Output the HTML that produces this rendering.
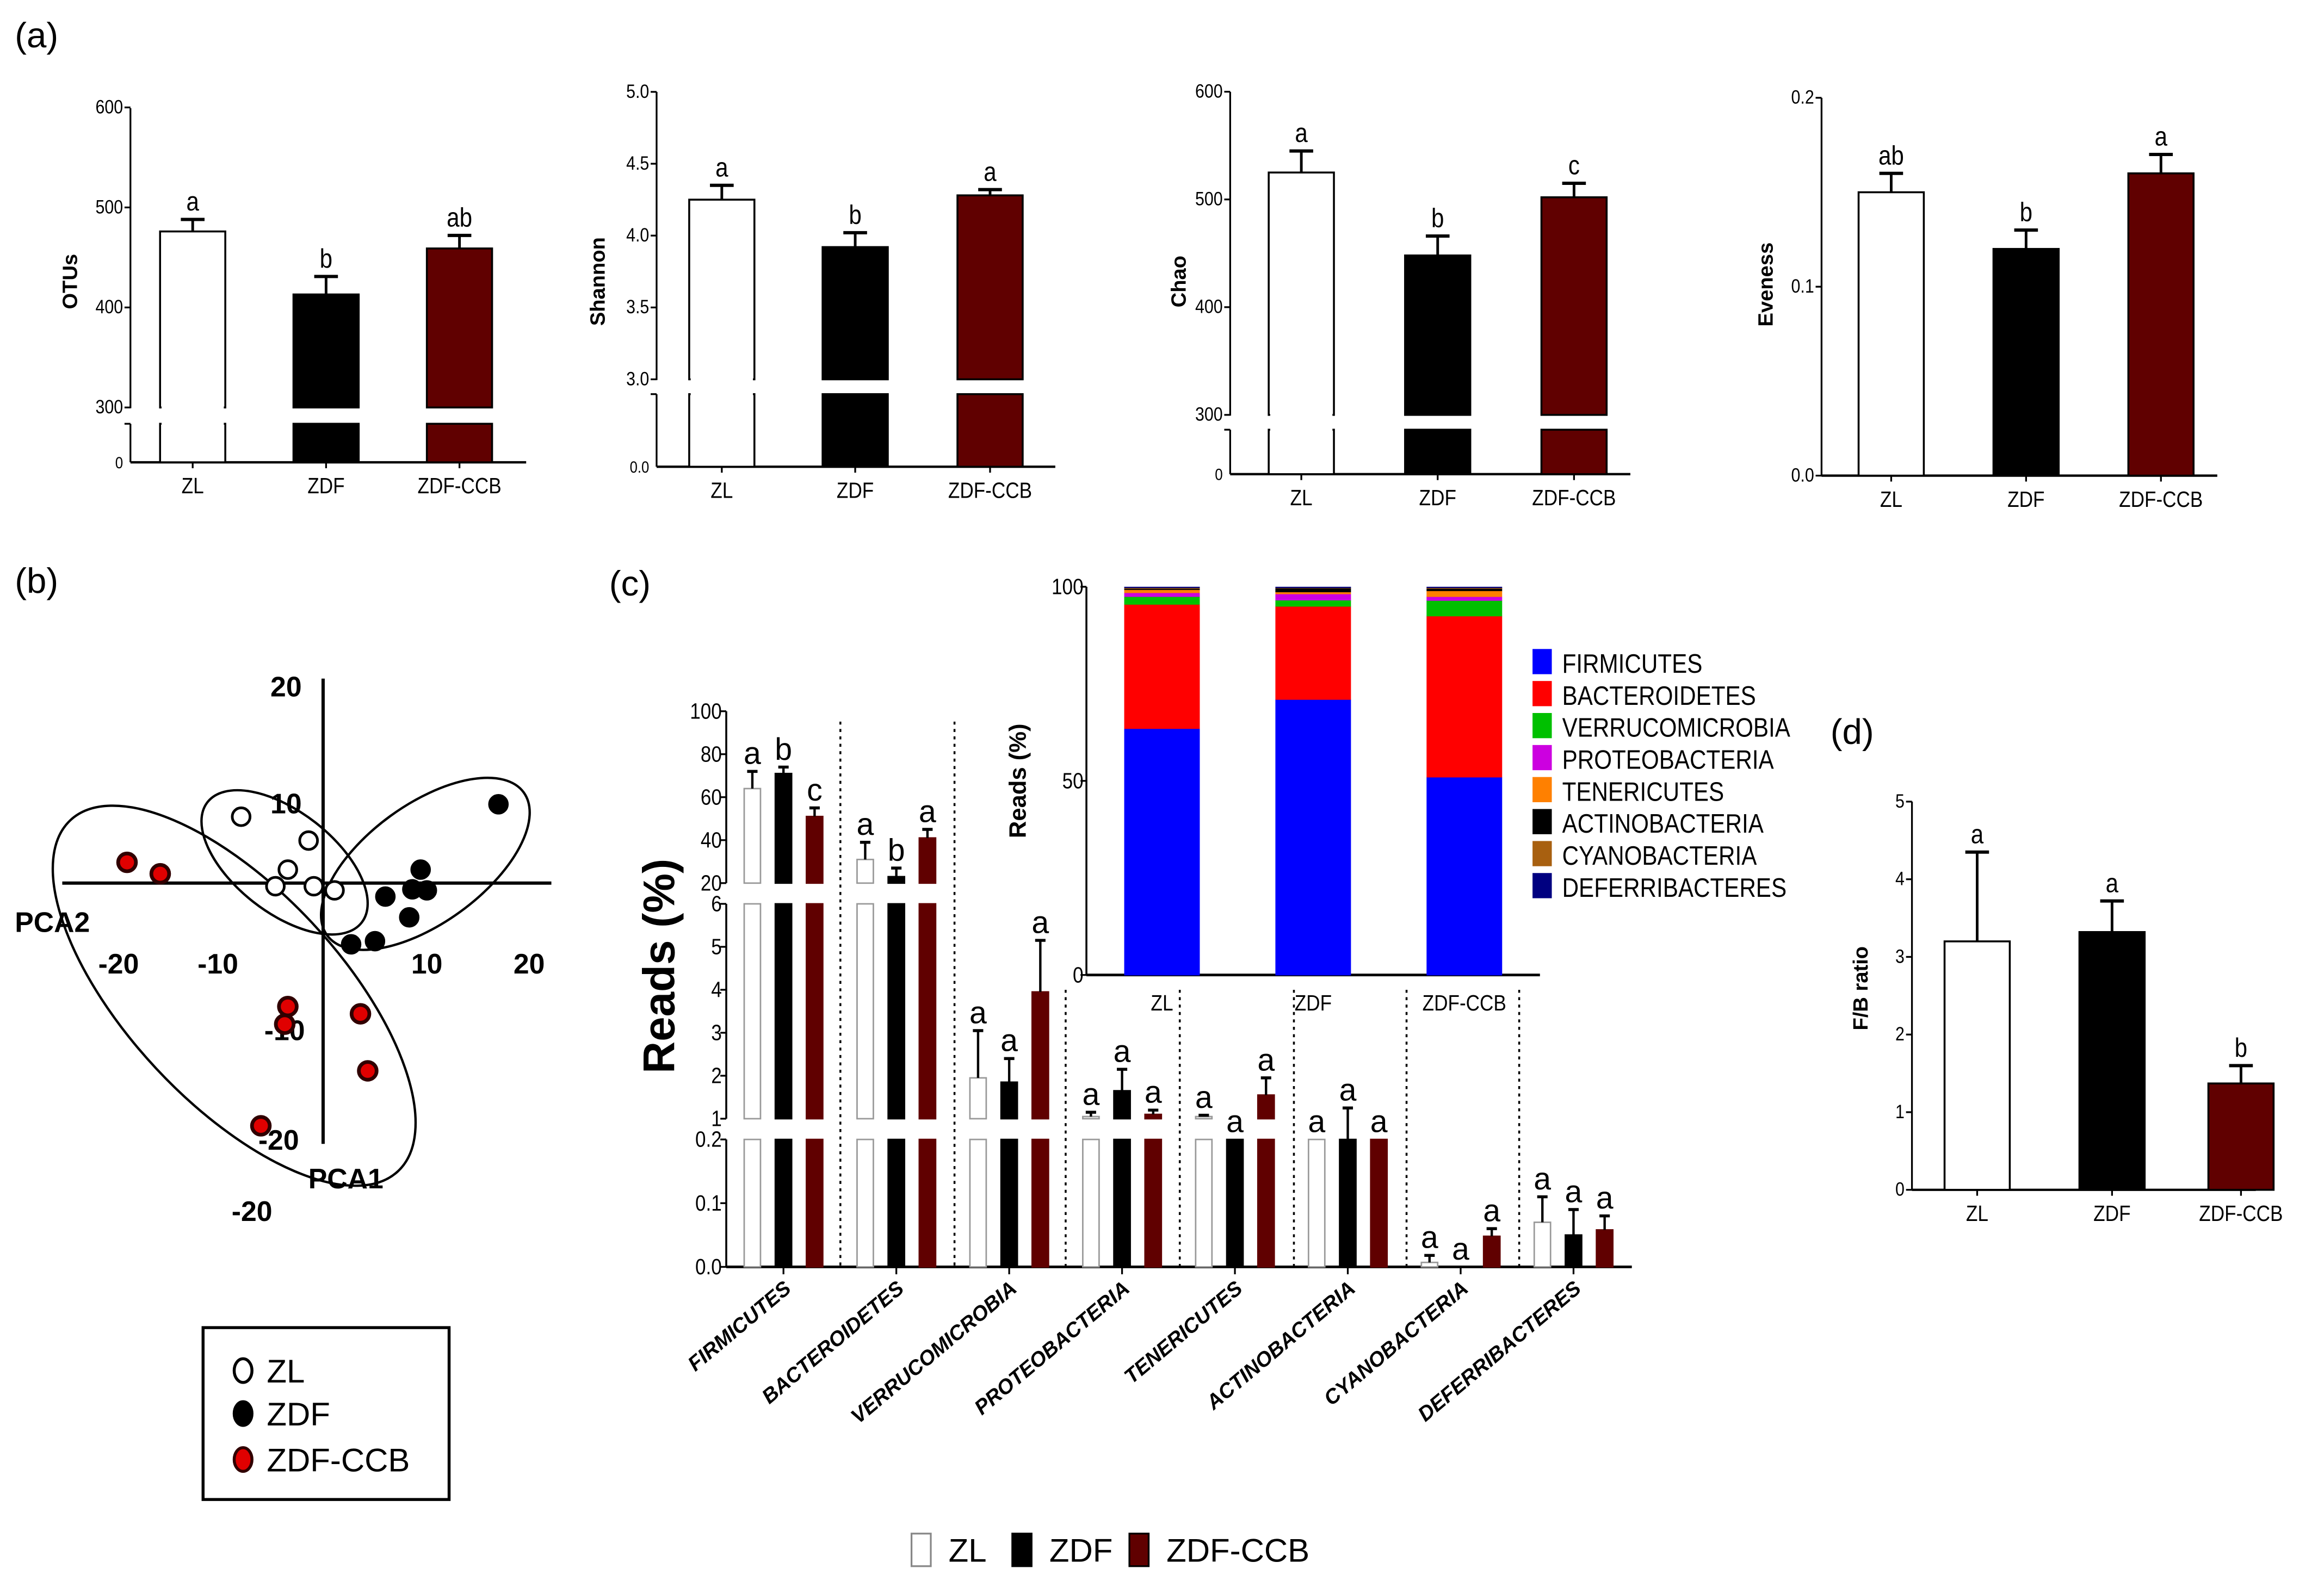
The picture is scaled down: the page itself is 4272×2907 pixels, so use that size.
<!DOCTYPE html>
<html><head><meta charset="utf-8"><style>
html,body{margin:0;padding:0;background:#fff;}
svg{display:block;}
text{font-family:"Liberation Sans Narrow","Liberation Sans",sans-serif;fill:#000;}
.b{font-family:"Liberation Sans",sans-serif;font-weight:bold;}
.L{font-family:"Liberation Sans",sans-serif;}
</style></head><body>
<svg id="fig" xmlns="http://www.w3.org/2000/svg" width="4272" height="2907" viewBox="0 0 1568 1067">
<rect x="0" y="0" width="1568" height="1067" fill="#fff"/>
<text class="L" x="10" y="32" font-size="24">(a)</text>
<text class="L" x="10" y="400" font-size="24">(b)</text>
<text class="L" x="411" y="402" font-size="24">(c)</text>
<text class="L" x="1235" y="502" font-size="24">(d)</text>
<g id="gA"></g>
<g id="gB"></g>
<g id="gC"></g>
<g id="gD"></g>
</svg>
<script>
const groups=["ZL","ZDF","ZDF-CCB"];
const fills=["#fff","#000","#600000"];
// panel a
const otusMean=[476,413,459], otusErr=[488,431,472], otusSig=["a","b","ab"];
const shanMean=[4.25,3.92,4.28], shanErr=[4.35,4.02,4.32], shanSig=["a","b","a"];
const chaoMean=[525,448,502], chaoErr=[545,466,515], chaoSig=["a","b","c"];
const evenMean=[0.15,0.12,0.16], evenErr=[0.16,0.13,0.17], evenSig=["ab","b","a"];
const otusTicks=[300,400,500,600], shanTicks=[3.0,3.5,4.0,4.5,5.0], chaoTicks=[300,400,500,600], evenTicks=[0,0.1,0.2];
// panel d
const fbMean=[3.2,3.32,1.37], fbErr=[4.35,3.72,1.6], fbSig=["a","a","b"], fbTicks=[0,1,2,3,4,5];
// panel b
const pcaZL=[[-7.9,6.4],[-1.4,4.1],[-3.4,1.3],[-4.6,-0.3],[-0.9,-0.3],[1.1,-0.7]];
const pcaZDF=[[16.9,7.6],[9.4,1.3],[8.6,-0.6],[10,-0.7],[6,-1.3],[8.3,-3.3],[5,-5.6],[2.7,-5.9]];
const pcaCCB=[[-18.9,2],[-15.7,0.9],[-3.4,-11.9],[-3.7,-13.6],[3.6,-12.6],[4.3,-18.1],[-6,-23.4]];
// panel c
const phyla=["FIRMICUTES","BACTEROIDETES","VERRUCOMICROBIA","PROTEOBACTERIA","TENERICUTES","ACTINOBACTERIA","CYANOBACTERIA","DEFERRIBACTERES"];
const readsZL=[64,31,1.95,1.05,1.05,0.9,0.007,0.07];
const readsZDF=[71,23,1.85,1.65,0.9,0.95,0,0.05];
const readsCCB=[51,41,3.95,1.1,1.55,0.9,0.048,0.058];
const errZL=[72,39,3.05,1.15,1.08,0.9,0.018,0.11];
const errZDF=[74,27,2.4,2.15,0.9,1.25,0,0.09];
const errCCB=[55,45,5.15,1.2,1.95,0.9,0.06,0.08];
const sigZL=["a","a","a","a","a","a","a","a"];
const sigZDF=["b","b","a","a","a","a","a","a"];
const sigCCB=["c","a","a","a","a","a","a","a"];
const readTicks1=[20,40,60,80,100], readTicks2=[1,2,3,4,5,6], readTicks3=[0.0,0.1,0.2];
const stackZL=[63.5,32,2,1,0.8,0.3,0.2,0.2];
const stackZDF=[71,24,1.6,1.6,0.5,1,0.1,0.2];
const stackCCB=[51,41.5,4,1,1.5,0.6,0.2,0.2];
const stackColors=["#0000ff","#ff0000","#00c000","#cc00e0","#ff8000","#000000","#a86010","#000080"];

const NS="http://www.w3.org/2000/svg";
function mk(par,tag,at,txt){const e=document.createElementNS(NS,tag);for(const k in at)e.setAttribute(k,at[k]);if(txt!==undefined)e.textContent=txt;par.appendChild(e);return e;}
function line(p,x1,y1,x2,y2,w,extra){return mk(p,"line",Object.assign({x1,y1,x2,y2,stroke:"#000","stroke-width":w||1.2},extra||{}));}

function barChart(par,c,means,errs,sigs,ticks){
  const g=mk(par,"g",{});
  
  
  const Y=c.y;
  if(c.brk){
    line(g,c.ax,c.top,c.ax,Y(c.brkV)+0.5);
    line(g,c.ax,c.lowTop,c.ax,c.base);
    line(g,c.ax-4,c.lowTop,c.ax,c.lowTop);
  } else line(g,c.ax,c.top,c.ax,c.base);
  line(g,c.ax,c.base,c.xEnd,c.base,1.6);
  ticks.forEach(t=>{const y=Y(t);line(g,c.ax-4,y,c.ax,y);
    const tl=mk(g,"text",{x:c.ax-5,y:y+4,"font-size":13,"text-anchor":"end"},c.fmt(t));
    
    });
  if(c.brk){const tl=mk(g,"text",{x:c.ax-5,y:c.base+4,"font-size":11,"text-anchor":"end"},c.zero);
    }
  const yl=mk(g,"text",{class:"b",x:0,y:0,"font-size":14,"text-anchor":"middle",transform:`translate(${c.ylx},${c.yly}) rotate(-90)`},c.ylabel);
  
  
  means.forEach((m,i)=>{
    const cx=c.cx[i],w=c.bw;
    const yTop=Y(m);
    const st={fill:fills[i],stroke:"#000","stroke-width":1.3};
    if(c.brk){
      const r1=mk(g,"rect",Object.assign({x:cx-w/2,y:yTop,width:w,height:Y(c.brkV)-yTop},st));
      
      
      const r2=mk(g,"rect",Object.assign({x:cx-w/2,y:c.lowTop,width:w,height:c.base-c.lowTop},st));
      
      
      if(i==0){mk(g,"rect",{x:cx-w/2+1,y:Y(c.brkV)-1,width:w-2,height:c.lowTop-Y(c.brkV)+2,fill:"#fff"});}
    } else {
      const r=mk(g,"rect",Object.assign({x:cx-w/2,y:yTop,width:w,height:c.base-yTop},st));
      
      
    }
    const ye=Y(errs[i]);
    line(g,cx,yTop,cx,ye,1.8);line(g,cx-8,ye,cx+8,ye,2.2);
    const s=mk(g,"text",{x:cx,y:ye-6,"font-size":18,"text-anchor":"middle"},sigs[i]);
    
    
    line(g,cx,c.base,cx,c.base+4);
    const xl=mk(g,"text",{x:cx,y:c.base+21,"font-size":15,"text-anchor":"middle"},groups[i]);
    
    
  });
}
const gA=document.getElementById("gA");
barChart(gA,{name:"otus-chart",ax:88,top:73,base:312,xEnd:355,brk:true,brkV:300,lowTop:286,zero:"0",
  y:v=>v<300?312-v/300*26:275-(v-300)*0.675,fmt:t=>String(t),ylabel:"OTUs",ylx:52,yly:190,cx:[130,220,310],bw:44},otusMean,otusErr,otusSig,otusTicks);
barChart(gA,{name:"shannon-chart",ax:443,top:62,base:315,xEnd:712,brk:true,brkV:3.0,lowTop:266,zero:"0.0",
  y:v=>v<3?315-v/3*49:256-(v-3)*97,fmt:t=>t.toFixed(1),ylabel:"Shannon",ylx:408,yly:190,cx:[487,577,668],bw:44},shanMean,shanErr,shanSig,shanTicks);
barChart(gA,{name:"chao-chart",ax:830,top:62,base:320,xEnd:1100,brk:true,brkV:300,lowTop:290,zero:"0",
  y:v=>v<300?320-v/300*30:280-(v-300)*0.727,fmt:t=>String(t),ylabel:"Chao",ylx:800,yly:190,cx:[878,970,1062],bw:44},chaoMean,chaoErr,chaoSig,chaoTicks);
barChart(gA,{name:"eveness-chart",ax:1229,top:66,base:321,xEnd:1496,brk:false,
  y:v=>321-v*1275,fmt:t=>t.toFixed(1),ylabel:"Eveness",ylx:1196,yly:192,cx:[1276,1367,1458],bw:44},evenMean,evenErr,evenSig,evenTicks);
barChart(document.getElementById("gD"),{name:"fb-ratio-chart",ax:1290,top:541,base:803,xEnd:1522,brk:false,
  y:v=>803-v*52.4,fmt:t=>String(t),ylabel:"F/B ratio",ylx:1260,yly:667,cx:[1334,1425,1512],bw:44},fbMean,fbErr,fbSig,fbTicks);

// panel b PCA
(function(){
  const g=document.getElementById("gB");
  const X=u=>218+u*7, Y=u=>596-u*7;
  [[192,582,66,34,38],[287,583,82,40,-36],[158,672,162,72,47]].forEach((e,i)=>{
    const el=mk(g,"ellipse",{cx:e[0],cy:e[1],rx:e[2],ry:e[3],transform:`rotate(${e[4]} ${e[0]} ${e[1]})`,fill:"none",stroke:"#000","stroke-width":1.6});
    
    
  });
  line(g,42,596,372,596,2.2);line(g,218,458,218,772,2.2);
  [["20",193,470],["10",193,549],["-10",192,702],["-20",188,776],["-20",170,824],["-20",80,657],["-10",147,657],["10",288,657],["20",357,657]].forEach(t=>{
    const tx=mk(g,"text",{class:"b",x:t[1],y:t[2],"font-size":19,"text-anchor":"middle"},t[0]);
    
    
  });
  const a1=mk(g,"text",{class:"b",x:10,y:629,"font-size":19},"PCA2");
  
  const a2=mk(g,"text",{class:"b",x:208,y:802,"font-size":19},"PCA1");
  
  const sets=[[pcaZL,"#fff","#000","point-zl"],[pcaZDF,"#000","#000","point-zdf"],[pcaCCB,"#e00000","#300000","point-zdf-ccb"]];
  sets.forEach(s=>s[0].forEach(p=>{
    const c=mk(g,"circle",{cx:X(p[0]),cy:Y(p[1]),r:6,fill:s[1],stroke:s[2],"stroke-width":s[1]=="#e00000"?2.5:1.8});
    
    
  }));
  const lg=mk(g,"g",{});
  
  
  mk(lg,"rect",{x:137,y:896,width:166,height:116,fill:"#fff",stroke:"#000","stroke-width":2});
  [["ZL","#fff","#000",925],["ZDF","#000","#000",954],["ZDF-CCB","#e00000","#300000",985]].forEach(e=>{
    mk(lg,"ellipse",{cx:164,cy:e[3],rx:6,ry:8,fill:e[1],stroke:e[2],"stroke-width":2});
    const t=mk(lg,"text",{class:"L",x:180,y:e[3]+8,"font-size":22},e[0]);
    
    
  });
})();

// panel c
(function(){
  const g=document.getElementById("gC");
  const ax=490, base=855;
  const segs=[[0,0.2,855,769],[1,6,755,610],[20,100,596,480]];
  function Y(v){
    if(v<=0.2) return 855-v/0.2*86;
    if(v<1) return 769;
    if(v<=6) return 755-(v-1)/5*145;
    if(v<20) return 610;
    return 596-(v-20)/80*116;
  }
  segs.forEach(s=>line(g,ax,s[2],ax,s[3],1.3));
  [[readTicks3,v=>855-v/0.2*86,v=>v.toFixed(1)],[readTicks2,v=>755-(v-1)/5*145,String],[readTicks1,v=>596-(v-20)/80*116,String]].forEach(tk=>{
    tk[0].forEach(t=>{const y=tk[1](t);line(g,ax-4,y,ax,y);
      const tl=mk(g,"text",{x:ax-3,y:y+5,"font-size":15,"text-anchor":"end"},tk[2](t));
      });
  });
  line(g,ax,base,1101,base,1.8);
  const yt=mk(g,"text",{class:"b",x:0,y:0,"font-size":30,"text-anchor":"middle",transform:"translate(455,652) rotate(-90)","xml:space":"preserve"},"Reads   (%)");
  
  const centers=phyla.map((p,i)=>528.6+i*76.15);
  const seps=[567,644,719,796,873,949,1025];
  seps.forEach((x,i)=>{const l=line(g,x,i<2?487:668,x,base,1.3,{"stroke-dasharray":"2,3"});
    });
  const series=[[readsZL,errZL,sigZL,"#fff","#999"],[readsZDF,errZDF,sigZDF,"#000","#000"],[readsCCB,errCCB,sigCCB,"#600000","#600000"]];
  phyla.forEach((p,i)=>{
    const cx=centers[i];
    series.forEach((s,k)=>{
      const v=s[0][i], x=cx+(k-1)*21-5.5;
      segs.forEach(sg=>{
        if(v<=sg[0]) return;
        const hi=Math.min(v,sg[1]);
        const yb=sg[2], yt2=sg[2]-(hi-sg[0])/(sg[1]-sg[0])*(sg[2]-sg[3]);
        const r=mk(g,"rect",{x:x,y:yt2,width:11,height:Math.max(0,yb-yt2),fill:s[3],stroke:s[4],"stroke-width":1});
        
        
      });
      const top=Y(v), ye=Y(s[1][i]);
      if(ye<top-0.5){line(g,x+5.5,top,x+5.5,ye,1.6);line(g,x+2,ye,x+9,ye,2);}
      const lt=mk(g,"text",{class:"L",x:x+5.5,y:Math.min(ye,top)-5,"font-size":21,"text-anchor":"middle"},s[2][i]);
      
    });
    line(g,cx,base,cx,base+5);
    const xl=mk(g,"text",{class:"b",x:0,y:0,"font-size":14,"font-style":"italic","text-anchor":"end",transform:`translate(${cx+6},${base+16}) rotate(-40)`},p);
    
  });
  const ig=mk(g,"g",{});
  
  
  const iY=v=>658-v*2.62;
  line(ig,733,396,733,658,1.3);line(ig,733,658,1039,658,1.8);
  [0,50,100].forEach(t=>{line(ig,729,iY(t),733,iY(t));
    const tl=mk(ig,"text",{x:731,y:iY(t)+5,"font-size":15,"text-anchor":"end"},String(t));
    });
  const it=mk(ig,"text",{class:"b",x:0,y:0,"font-size":16,"text-anchor":"middle",transform:"translate(692,527) rotate(-90)","xml:space":"preserve"},"Reads   (%)");
  
  [[stackZL,784],[stackZDF,886],[stackCCB,988]].forEach((s,k)=>{
    let acc=0;
    s[0].forEach((v,j)=>{
      const r=mk(ig,"rect",{x:s[1]-25.5,y:iY(acc+v),width:51,height:iY(acc)-iY(acc+v)+0.3,fill:stackColors[j]});
      
      
      acc+=v;
    });
    const xl=mk(ig,"text",{x:s[1],y:682,"font-size":15,"text-anchor":"middle"},groups[k]);
    
  });
  phyla.forEach((p,j)=>{
    const y=447+j*21.6;
    mk(ig,"rect",{x:1034,y:y-9,width:13,height:17,fill:stackColors[j]});
    const t=mk(ig,"text",{x:1054,y:y+7,"font-size":18},p);
    
  });
  [["ZL",615],["ZDF",683],["ZDF-CCB",762]].forEach((e,k)=>{
    const r=mk(g,"rect",{x:e[1],y:1035,width:13,height:22,fill:fills[k],stroke:k==0?"#888":"#000","stroke-width":1.2});
    
    const t=mk(g,"text",{class:"L",x:e[1]+25,y:1054,"font-size":22},e[0]);
    
  });
})();
// condense narrow-font text (fallback when narrow font missing)
document.querySelectorAll("text").forEach(t=>{
  if(t.classList.contains("b")||t.classList.contains("L"))return;
  const L=t.getComputedTextLength();
  if(L>0){t.setAttribute("textLength",(L*0.86).toFixed(1));t.setAttribute("lengthAdjust","spacingAndGlyphs");}
});
</script>
</body></html>
